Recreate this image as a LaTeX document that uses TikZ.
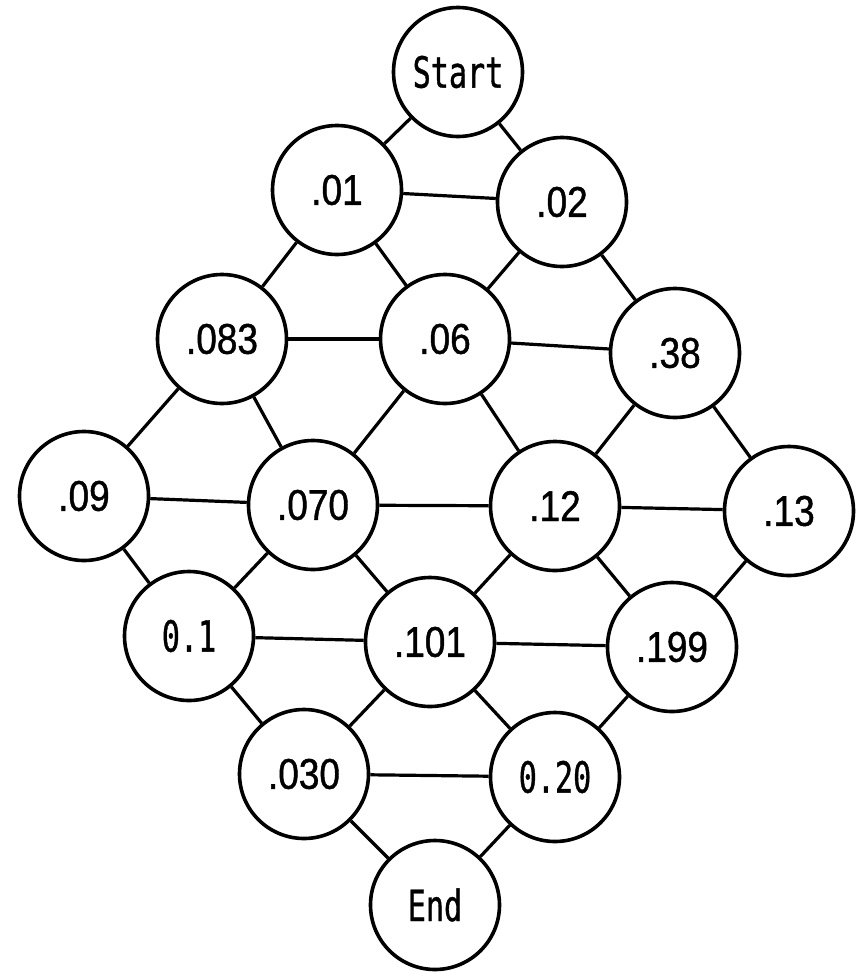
\documentclass[tikz,border=0pt]{standalone}
\usepackage{fontspec}
\newfontfamily\labfont[FakeStretch=0.86,FakeBold=1]{Liberation Sans}
\newfontfamily\lmono[FakeStretch=0.7,FakeBold=0.8]{DejaVu Sans Mono}
\begin{document}
\begin{tikzpicture}[x=1pt,y=-1pt,
  st/.style={circle,draw,line width=3.6pt,minimum size=129pt,inner sep=0pt,
    font=\labfont\fontsize{43}{43}\selectfont},
  mo/.style={st,font=\lmono\fontsize{43}{43}\selectfont},
  ed/.style={line width=3.2pt}]
\useasboundingbox (0,0) rectangle (865,972);
\node[mo] (start) at (458,72) {Start};
\node[st] (a1) at (337,190) {.01};
\node[st] (a2) at (562,202) {.02};
\node[st] (b1) at (222,339) {.083};
\node[st] (b2) at (445,339) {.06};
\node[st] (b3) at (675,353) {.38};
\node[st] (c1) at (84,496) {.09};
\node[st] (c2) at (313,505) {.070};
\node[st] (c3) at (555,506) {.12};
\node[st] (c4) at (789,511) {.13};
\node[mo] (d1) at (189,636) {0.1};
\node[st] (d2) at (430,642) {.101};
\node[st] (d3) at (672,647) {.199};
\node[st] (e1) at (304,774) {.030};
\node[mo] (e2) at (555,777) {0.20};
\node[mo] (end) at (435,905) {End};
\foreach \u/\v in {start/a1,start/a2,a1/a2,a1/b1,a1/b2,a2/b2,a2/b3,
  b1/b2,b2/b3,b1/c1,b1/c2,b2/c2,b2/c3,b3/c3,b3/c4,
  c1/c2,c2/c3,c3/c4,c1/d1,c2/d1,c2/d2,c3/d2,c3/d3,c4/d3,
  d1/d2,d2/d3,d1/e1,d2/e1,d2/e2,d3/e2,e1/e2,e1/end,e2/end}
  \draw[ed] (\u) -- (\v);
\end{tikzpicture}
\end{document}
